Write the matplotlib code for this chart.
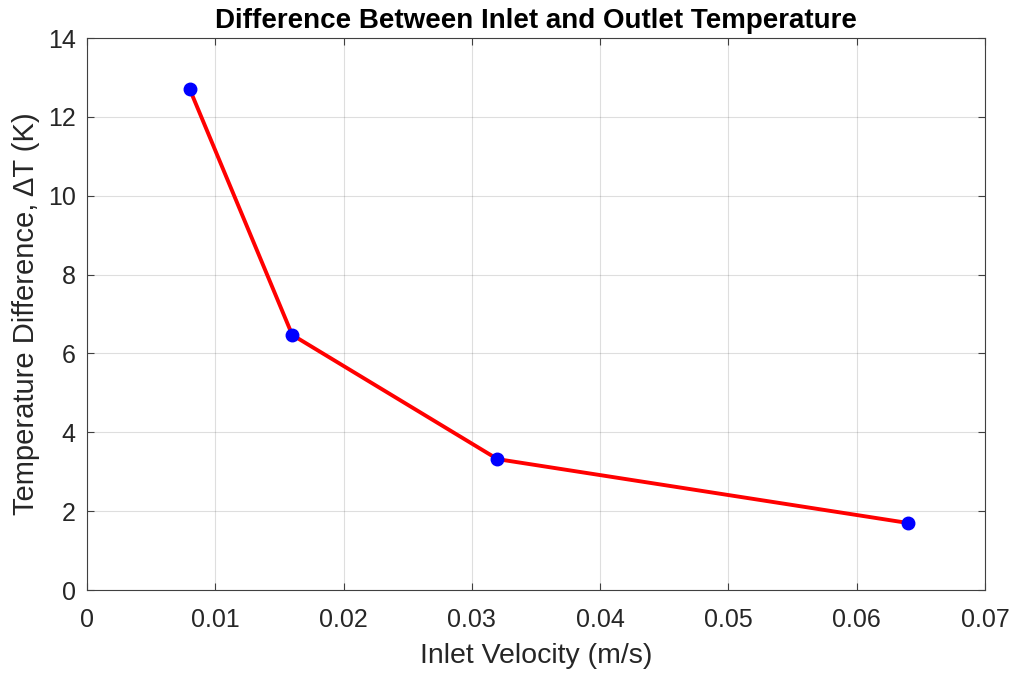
import matplotlib
matplotlib.use("Agg")
import matplotlib.pyplot as plt

velocity = [0.008, 0.016, 0.032, 0.064]
delta_t = [12.71, 6.47, 3.32, 1.70]
xticks = [0, 0.01, 0.02, 0.03, 0.04, 0.05, 0.06, 0.07]
xtick_labels = ["0", "0.01", "0.02", "0.03", "0.04", "0.05", "0.06", "0.07"]
yticks = [0, 2, 4, 6, 8, 10, 12, 14]

plt.rcParams['font.family'] = ['Liberation Sans', 'DejaVu Sans']

fig = plt.figure(figsize=(10.15, 6.74), dpi=100)
ax = fig.add_axes([0.0857, 0.1246, 0.8847, 0.819])
ax.plot(velocity, delta_t, color='red', linewidth=2.8, marker='o',
        markersize=9, markerfacecolor='blue', markeredgecolor='blue', zorder=3)
ax.set_xlim(0, 0.07)
ax.set_ylim(0, 14)
ax.set_xticks(xticks)
ax.set_xticklabels(xtick_labels)
ax.set_yticks(yticks)
ax.grid(True, color='#262626', alpha=0.15, linewidth=0.8)
ax.set_axisbelow(True)
dark = '#404040'
for s in ax.spines.values():
    s.set_color(dark)
    s.set_linewidth(0.8)
ax.tick_params(direction='in', top=True, right=True, length=5, width=0.8,
               colors=dark, labelsize=18, labelcolor='#262626')
ax.tick_params(axis='x', pad=13)
ax.tick_params(axis='y', pad=8)
ax.set_xlabel('Inlet Velocity (m/s)', fontsize=20.5, color='#262626', labelpad=8)
ax.set_ylabel('Temperature Difference, ΔT (K)', fontsize=21, color='#262626', labelpad=6)
ax.set_title('Difference Between Inlet and Outlet Temperature', fontsize=20,
             fontweight='bold', color='black', pad=7)
fig.savefig('out.png', dpi=100)
